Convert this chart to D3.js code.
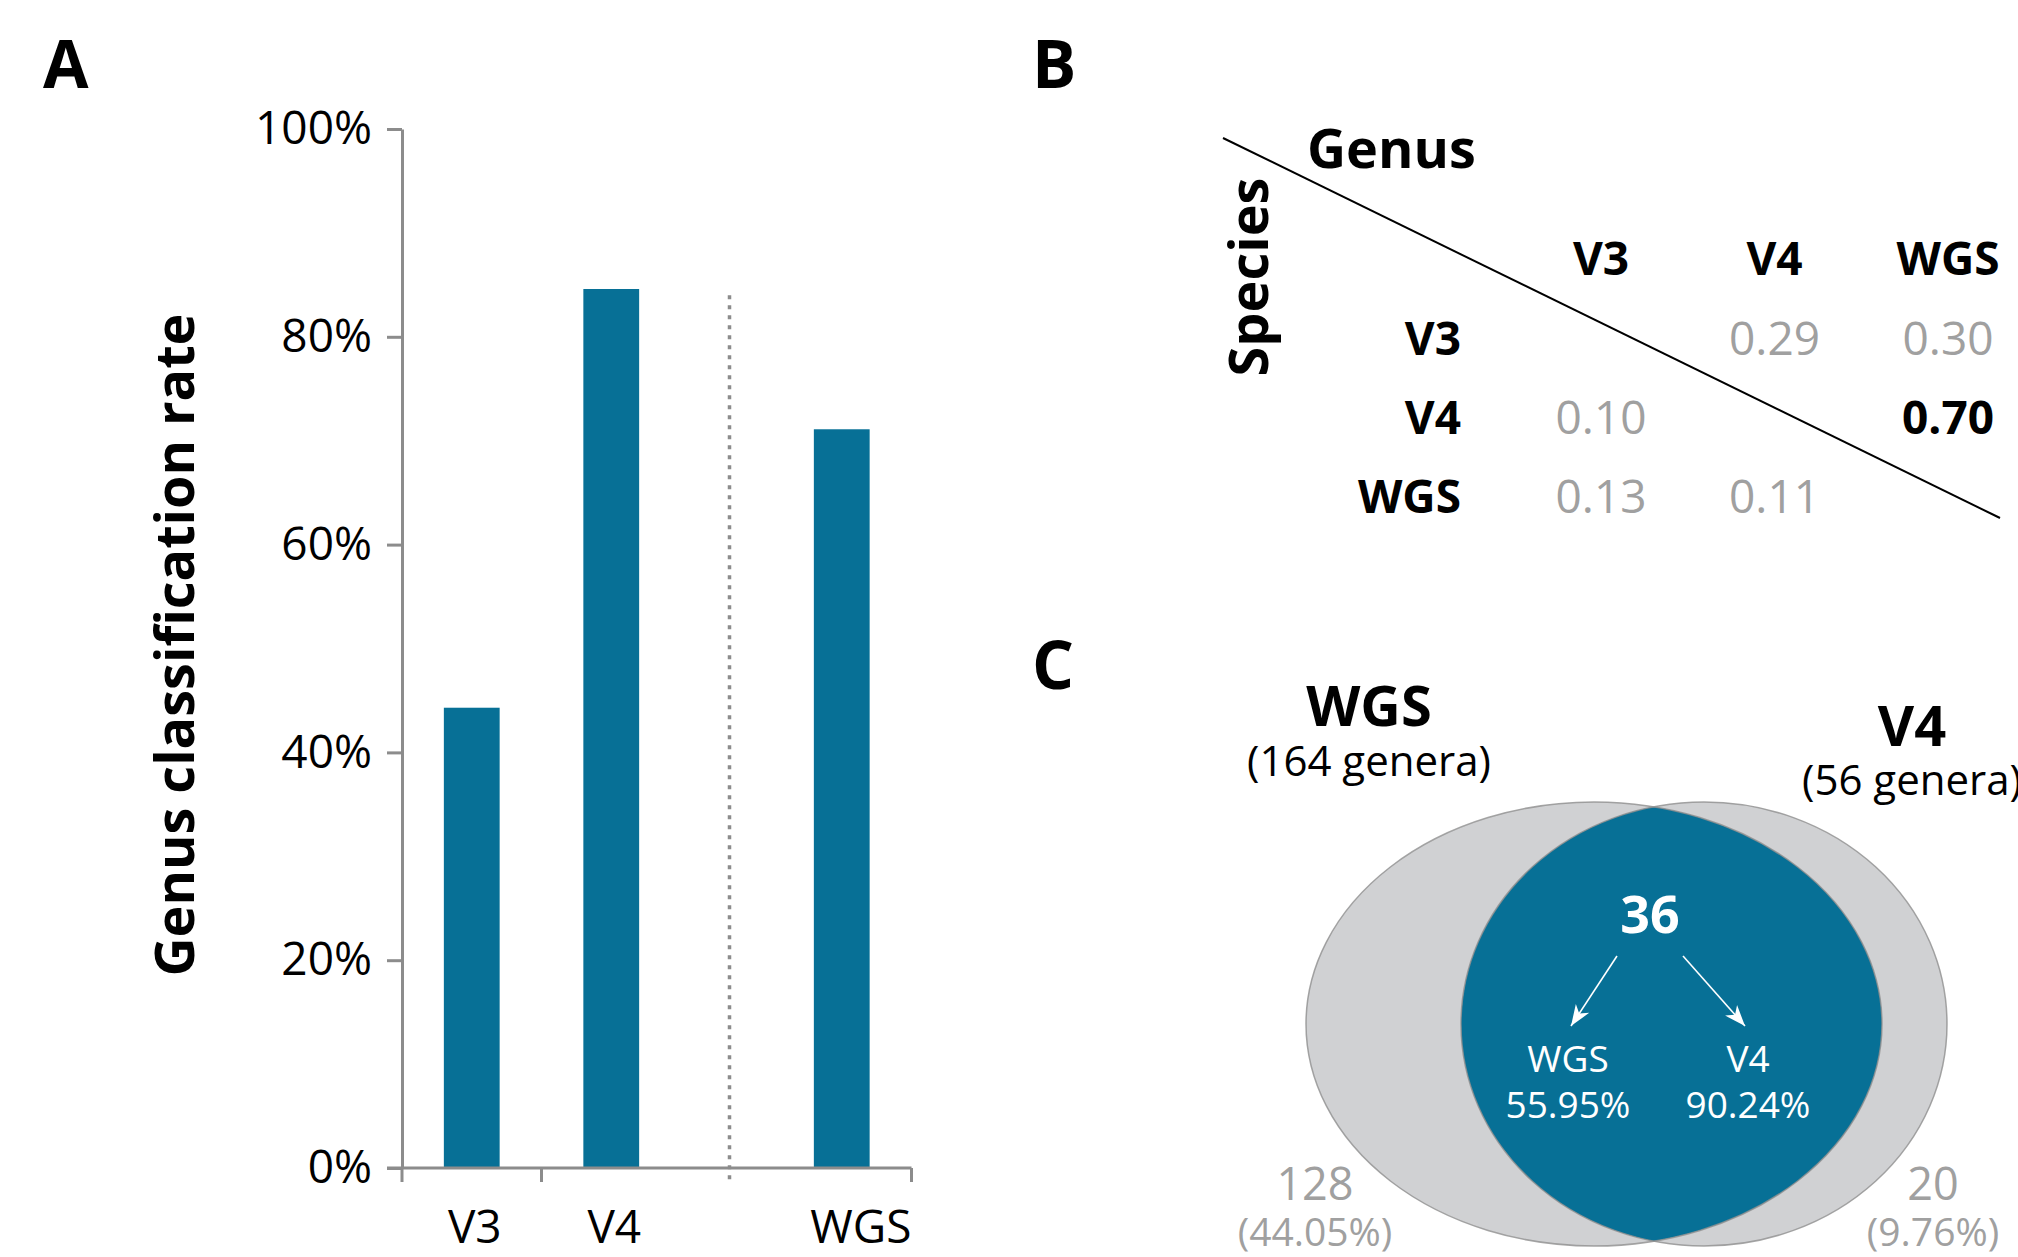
<!DOCTYPE html>
<html>
<head>
<meta charset="utf-8">
<script src="https://cdn.jsdelivr.net/npm/d3@7"></script>
<style>
  body { margin: 0; background: #fff; }
  svg { display: block; font-family: 'Open Sans', sans-serif; }
</style>
</head>
<body>
<div id="graf"></div>
<script>
// datos panel A
const categorias = ['V3', 'V4', 'WGS']
const tasas = [0.443, 0.846, 0.711]
const grupos = [0, 0, 1]
const yTicks = [0, 0.2, 0.4, 0.6, 0.8, 1]

// datos panel B
const colsTabla = ['V3', 'V4', 'WGS']
const filasTabla = ['V3', 'V4', 'WGS']
const filaV3 = [null, 0.29, 0.30]
const filaV4 = [0.10, null, 0.70]
const filaWGS = [0.13, 0.11, null]

// datos panel C
const vennSets = ['WGS', 'V4']
const vennTotal = [164, 56]
const vennSolo = [128, 20]
const vennSoloPct = [44.05, 9.76]
const vennComun = 36
const vennComunPct = [55.95, 90.24]

const azul = '#077096'
const gris = '#8c8c8c'
const grisTexto = '#a0a0a0'
const grisVenn = '#d0d1d3'

const ancho = 2018, alto = 1257
const svg = d3.select('#graf').append('svg')
  .attr('width', ancho)
  .attr('height', alto)

svg.append('rect').attr('width', ancho).attr('height', alto).attr('fill', '#fff')

// letras de panel
const paneles = [['A', 43, 88], ['B', 1032, 88], ['C', 1032, 689]]
svg.selectAll('.panel').data(paneles).enter().append('text')
  .attr('class', 'panel')
  .attr('x', d => d[0] === 'A' ? d[1] : d[1])
  .attr('y', d => d[2])
  .attr('font-size', 66)
  .attr('font-weight', 700)
  .text(d => d[0])

// ---------- panel A: barras ----------
const mA = { left: 402, top: 129, bottom: 1168 }
const anchoBanda = 139.5
const gapGrupo = 91

const y = d3.scaleLinear().domain([0, 1]).range([mA.bottom, mA.top])
const x = d3.scaleBand().domain(categorias).range([0, anchoBanda * categorias.length])
const xPos = (d, i) => mA.left + x(d) + grupos[i] * gapGrupo
const anchoBarra = x.bandwidth() * 0.4

const gA = svg.append('g')

gA.selectAll('rect.barra').data(tasas).enter().append('rect')
  .attr('class', 'barra')
  .attr('x', (d, i) => xPos(categorias[i], i) + (x.bandwidth() - anchoBarra) / 2)
  .attr('y', d => y(d))
  .attr('width', anchoBarra)
  .attr('height', d => y(0) - y(d))
  .attr('fill', azul)

// linea punteada separadora
const finV4 = xPos('V4', 1) + x.bandwidth()
const iniWGS = xPos('WGS', 2)
gA.append('line')
  .attr('x1', (finV4 + iniWGS) / 2 + 3).attr('x2', (finV4 + iniWGS) / 2 + 3)
  .attr('y1', y(0.84)).attr('y2', y(0) + 14)
  .attr('stroke', gris)
  .attr('stroke-width', 3.5)
  .attr('stroke-dasharray', '4 6')

// eje y
const yAxis = gA.append('g')
  .attr('transform', `translate(${mA.left}, 0)`)
  .call(d3.axisLeft(y).tickValues(yTicks).tickFormat(d3.format('.0%'))
    .tickSize(15).tickSizeOuter(0).tickPadding(15))
yAxis.select('.domain').attr('stroke', gris).attr('stroke-width', 3)
yAxis.selectAll('.tick line').attr('stroke', gris).attr('stroke-width', 3)
yAxis.selectAll('.tick text')
  .attr('font-size', 46)
  .attr('font-family', "'Open Sans', sans-serif")
  .attr('fill', '#000')

// eje x
const xFin = xPos('WGS', 2) + x.bandwidth()
gA.append('line')
  .attr('x1', mA.left - 15).attr('x2', xFin)
  .attr('y1', y(0)).attr('y2', y(0))
  .attr('stroke', gris).attr('stroke-width', 3)
const xTicks = [xPos('V3', 0), xPos('V4', 1), xFin]
gA.selectAll('line.xtick').data(xTicks).enter().append('line')
  .attr('class', 'xtick')
  .attr('x1', d => d).attr('x2', d => d)
  .attr('y1', y(0)).attr('y2', y(0) + 14)
  .attr('stroke', gris).attr('stroke-width', 3)

gA.selectAll('text.xlab').data(categorias).enter().append('text')
  .attr('class', 'xlab')
  .attr('x', (d, i) => grupos[i] ? xPos(d, i) + x.bandwidth() : xPos(d, i) + x.bandwidth() / 2 + 3)
  .attr('y', 1243)
  .attr('text-anchor', (d, i) => grupos[i] ? 'end' : 'middle')
  .attr('font-size', 46)
  .text(d => d)

gA.append('text')
  .attr('transform', 'translate(194, 645) rotate(-90)')
  .attr('text-anchor', 'middle')
  .attr('font-size', 54)
  .attr('font-weight', 700)
  .text('Genus classification rate')

// ---------- panel B: tabla ----------
const matriz = [filaV3, filaV4, filaWGS]
const colX = d3.scalePoint().domain(colsTabla).range([1601, 1948])
const filaY = d3.scalePoint().domain(filasTabla).range([355, 513])
const maxTabla = d3.max(matriz.flat())

const gB = svg.append('g')

gB.append('line')
  .attr('x1', 1223).attr('y1', 138)
  .attr('x2', 2000).attr('y2', 518)
  .attr('stroke', '#000').attr('stroke-width', 2)

gB.append('text')
  .attr('x', 1307).attr('y', 168)
  .attr('font-size', 54).attr('font-weight', 700)
  .text('Genus')

gB.append('text')
  .attr('transform', 'translate(1268, 277) rotate(-90)')
  .attr('text-anchor', 'middle')
  .attr('font-size', 54).attr('font-weight', 700)
  .text('Species')

gB.selectAll('text.col').data(colsTabla).enter().append('text')
  .attr('class', 'col')
  .attr('x', d => colX(d)).attr('y', 275)
  .attr('text-anchor', 'middle')
  .attr('font-size', 46).attr('font-weight', 700)
  .text(d => d)

gB.selectAll('text.fila').data(filasTabla).enter().append('text')
  .attr('class', 'fila')
  .attr('x', 1461).attr('y', d => filaY(d))
  .attr('text-anchor', 'end')
  .attr('font-size', 46).attr('font-weight', 700)
  .text(d => d)

const celdas = []
matriz.forEach((fila, i) => fila.forEach((v, j) => {
  if (v !== null) celdas.push({ fila: filasTabla[i], col: colsTabla[j], v: v })
}))
gB.selectAll('text.celda').data(celdas).enter().append('text')
  .attr('class', 'celda')
  .attr('x', d => colX(d.col)).attr('y', d => filaY(d.fila))
  .attr('text-anchor', 'middle')
  .attr('font-size', 46)
  .attr('font-weight', d => d.v === maxTabla ? 700 : 400)
  .attr('fill', d => d.v === maxTabla ? '#000' : grisTexto)
  .text(d => d3.format('.2f')(d.v))

// ---------- panel C: venn ----------
const vennCy = 1024, vennRy = 222
const vennIzq = 1306, vennDer = 1947
const rx = d3.scaleLinear().domain(d3.extent(vennTotal)).range([243, 288])
const elipses = [
  { set: vennSets[0], cx: vennIzq + rx(vennTotal[0]), rx: rx(vennTotal[0]) },
  { set: vennSets[1], cx: vennDer - rx(vennTotal[1]), rx: rx(vennTotal[1]) }
]

const gC = svg.append('g')
const defs = svg.append('defs')
defs.append('clipPath').attr('id', 'clipIzq')
  .append('ellipse')
  .attr('cx', elipses[0].cx).attr('cy', vennCy)
  .attr('rx', elipses[0].rx).attr('ry', vennRy)

defs.append('marker')
  .attr('id', 'flecha')
  .attr('viewBox', '-22 -10 24 20')
  .attr('refX', 0).attr('refY', 0)
  .attr('markerWidth', 24).attr('markerHeight', 20)
  .attr('markerUnits', 'userSpaceOnUse')
  .attr('orient', 'auto')
  .append('path')
  .attr('d', 'M0,0 L-21,-8 L-15,0 L-21,8 Z')
  .attr('fill', '#fff')

gC.selectAll('ellipse.fondo').data(elipses).enter().append('ellipse')
  .attr('class', 'fondo')
  .attr('cx', d => d.cx).attr('cy', vennCy)
  .attr('rx', d => d.rx).attr('ry', vennRy)
  .attr('fill', grisVenn)

gC.append('ellipse')
  .attr('cx', elipses[1].cx).attr('cy', vennCy)
  .attr('rx', elipses[1].rx).attr('ry', vennRy)
  .attr('clip-path', 'url(#clipIzq)')
  .attr('fill', azul)

gC.selectAll('ellipse.borde').data(elipses).enter().append('ellipse')
  .attr('class', 'borde')
  .attr('cx', d => d.cx).attr('cy', vennCy)
  .attr('rx', d => d.rx).attr('ry', vennRy)
  .attr('fill', 'none')
  .attr('stroke', '#8f8f8f')
  .attr('stroke-opacity', 0.8)
  .attr('stroke-width', 1.5)

// titulos de conjuntos
const posTitulo = [[1369, 726, 776], [1912, 746, 795]]
vennSets.forEach((s, i) => {
  gC.append('text')
    .attr('x', posTitulo[i][0]).attr('y', posTitulo[i][1])
    .attr('text-anchor', 'middle')
    .attr('font-size', 56).attr('font-weight', 700)
    .text(s)
  gC.append('text')
    .attr('x', posTitulo[i][0]).attr('y', posTitulo[i][2])
    .attr('text-anchor', 'middle')
    .attr('font-size', 42)
    .text(`(${vennTotal[i]} genera)`)
})

// solo en un conjunto
const posSolo = [1315, 1933]
vennSolo.forEach((n, i) => {
  gC.append('text')
    .attr('x', posSolo[i]).attr('y', 1200)
    .attr('text-anchor', 'middle')
    .attr('font-size', 45).attr('fill', grisTexto)
    .text(n)
  gC.append('text')
    .attr('x', posSolo[i]).attr('y', 1246)
    .attr('text-anchor', 'middle')
    .attr('font-size', 39).attr('fill', grisTexto)
    .text(`(${vennSoloPct[i].toFixed(2)}%)`)
})

// interseccion
const xComun = 1650
gC.append('text')
  .attr('x', xComun).attr('y', 933)
  .attr('text-anchor', 'middle')
  .attr('font-size', 52).attr('font-weight', 700)
  .attr('fill', '#fff')
  .text(vennComun)

const posSub = [1568, 1748]
vennSets.forEach((s, i) => {
  const lado = i === 0 ? -1 : 1
  gC.append('line')
    .attr('x1', xComun + lado * 33).attr('y1', 956)
    .attr('x2', posSub[i] - lado * 3).attr('y2', 1026)
    .attr('stroke', '#fff').attr('stroke-width', 1.6)
    .attr('marker-end', 'url(#flecha)')
  gC.append('text')
    .attr('x', posSub[i]).attr('y', 1072)
    .attr('text-anchor', 'middle')
    .attr('font-size', 37).attr('fill', '#fff')
    .text(s)
  gC.append('text')
    .attr('x', posSub[i]).attr('y', 1118)
    .attr('text-anchor', 'middle')
    .attr('font-size', 37).attr('fill', '#fff')
    .text(`${vennComunPct[i].toFixed(2)}%`)
})
</script>
</body>
</html>
